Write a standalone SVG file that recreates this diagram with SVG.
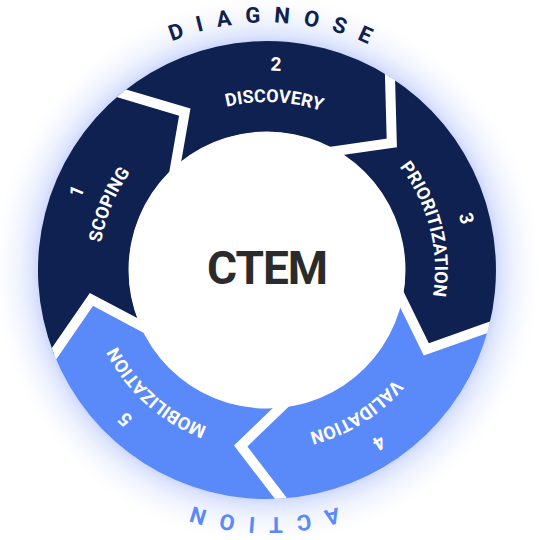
<svg xmlns="http://www.w3.org/2000/svg" xmlns:xlink="http://www.w3.org/1999/xlink" width="539" height="540" viewBox="0 0 539 540">
  <defs>
    <radialGradient id="glow" cx="267" cy="270" r="278" gradientUnits="userSpaceOnUse">
      <stop offset="0.80" stop-color="#ccd7fc"/>
      <stop offset="0.824" stop-color="#cfd9fc"/>
      <stop offset="0.85" stop-color="#e0e7fd"/>
      <stop offset="0.89" stop-color="#eff3fe"/>
      <stop offset="0.94" stop-color="#fafbff"/>
      <stop offset="1" stop-color="#ffffff" stop-opacity="0"/>
    </radialGradient>
    <clipPath id="ring"><circle cx="267" cy="270" r="229"/></clipPath>
    <path id="pLabel" d="M267 438 A168 168 0 1 1 267 102 A168 168 0 1 1 267 438"/>
    <path id="pNum" d="M267 469.5 A199.5 199.5 0 1 1 267 70.5 A199.5 199.5 0 1 1 267 469.5"/>
    <path id="pOuter" d="M267 517.5 A247.5 247.5 0 1 1 267 22.5 A247.5 247.5 0 1 1 267 517.5"/>
  </defs>
  <style>
    .dark{fill:#0f2150}
    .blue{fill:#5a8af9}
    .lbl{font-family:Roboto,"Liberation Sans",Arial,sans-serif;font-weight:700;font-size:18px;fill:#ffffff;text-anchor:middle}
    .num{font-family:Roboto,"Liberation Sans",Arial,sans-serif;font-weight:700;font-size:19px;fill:#ffffff;text-anchor:middle}
    .arc{font-family:Roboto,"Liberation Sans",Arial,sans-serif;font-weight:700;font-size:22px;letter-spacing:13.5px;text-anchor:middle}
    .gap{fill:none;stroke:#ffffff;stroke-width:10;stroke-linejoin:miter}
  </style>

  <circle cx="267" cy="270" r="278" fill="url(#glow)"/>

  <g id="node-scoping">
    <path class="dark" d="M53.9 353.9 L91.4 299.4 L140.6 325.5 A138 138 0 0 1 175.2 167 L184.8 112.1 L121.3 93.3 A229 229 0 0 0 53.9 353.9 Z"/>
    <text class="num" transform="rotate(292.5 267 270)"><textPath xlink:href="#pNum" startOffset="50%">1</textPath></text>
    <text class="lbl" transform="rotate(292.5 267 270)"><textPath xlink:href="#pLabel" startOffset="50%">SCOPING</textPath></text>
  </g>
  <g id="node-discovery">
    <path class="dark" d="M121.3 93.3 L184.8 112.1 L175.2 167 A138 138 0 0 1 336.6 150.9 L391.8 143 L390 76.9 A229 229 0 0 0 121.3 93.3 Z"/>
    <text class="num" transform="rotate(2.5 267 270)"><textPath xlink:href="#pNum" startOffset="50%">2</textPath></text>
    <text class="lbl" transform="rotate(2.5 267 270)"><textPath xlink:href="#pLabel" startOffset="50%">DISCOVERY</textPath></text>
  </g>
  <g id="node-prioritization">
    <path class="dark" d="M390 76.9 L391.8 143 L336.6 150.9 A138 138 0 0 1 401.8 299.4 L426.3 349.4 L488.7 327.3 A229 229 0 0 0 390 76.9 Z"/>
    <text class="num" transform="rotate(75.5 267 270)"><textPath xlink:href="#pNum" startOffset="50%">3</textPath></text>
    <text class="lbl" transform="rotate(75.5 267 270)"><textPath xlink:href="#pLabel" startOffset="50%">PRIORITIZATION</textPath></text>
  </g>
  <g id="node-validation">
    <path class="blue" d="M488.7 327.3 L426.3 349.4 L401.8 299.4 A138 138 0 0 1 280.7 407.3 L240.7 446 L281 498.6 A229 229 0 0 0 488.7 327.3 Z"/>
    <text class="num" transform="rotate(147 267 270)"><textPath xlink:href="#pNum" startOffset="50%">4</textPath></text>
    <text class="lbl" transform="rotate(148 267 270)"><textPath xlink:href="#pLabel" startOffset="50%">VALIDATION</textPath></text>
  </g>
  <g id="node-mobilization">
    <path class="blue" d="M281 498.6 L240.7 446 L280.7 407.3 A138 138 0 0 1 140.6 325.5 L91.4 299.4 L53.9 353.9 A229 229 0 0 0 281 498.6 Z"/>
    <text class="num" transform="rotate(223.5 267 270)"><textPath xlink:href="#pNum" startOffset="50%">5</textPath></text>
    <text class="lbl" transform="rotate(222 267 270)"><textPath xlink:href="#pLabel" startOffset="50%">MOBILIZATION</textPath></text>
  </g>

  <g id="connectors" clip-path="url(#ring)">
    <polyline class="gap" points="106.9,89 121.3,93.3 184.8,112.1 175.2,167 172.6,181.8"/>
    <polyline class="gap" points="389.6,61.9 390,76.9 391.8,143 336.6,150.9 321.8,153"/>
    <polyline class="gap" points="502.8,322.3 488.7,327.3 426.3,349.4 401.8,299.4 395.2,285.9"/>
    <polyline class="gap" points="290.1,510.5 281,498.6 240.7,446 280.7,407.3 291.5,396.9"/>
    <polyline class="gap" points="45.4,366.3 53.9,353.9 91.4,299.4 140.6,325.5 153.8,332.5"/>
  </g>

  <g id="center">
    <circle cx="267" cy="270" r="138.5" fill="#ffffff"/>
    <text x="267" y="284" text-anchor="middle" font-family="Roboto, 'Liberation Sans', Arial, sans-serif" font-weight="700" font-size="46" letter-spacing="-1" fill="#2b2b2b">CTEM</text>
  </g>

  <g id="phase-labels">
    <text class="arc" fill="#0f2150" transform="rotate(2.3 267 270)"><textPath xlink:href="#pOuter" startOffset="50%">DIAGNOSE</textPath></text>
    <text class="arc" fill="#5a8af9" transform="rotate(182 267 270)"><textPath xlink:href="#pOuter" startOffset="50%">ACTION</textPath></text>
  </g>
</svg>
